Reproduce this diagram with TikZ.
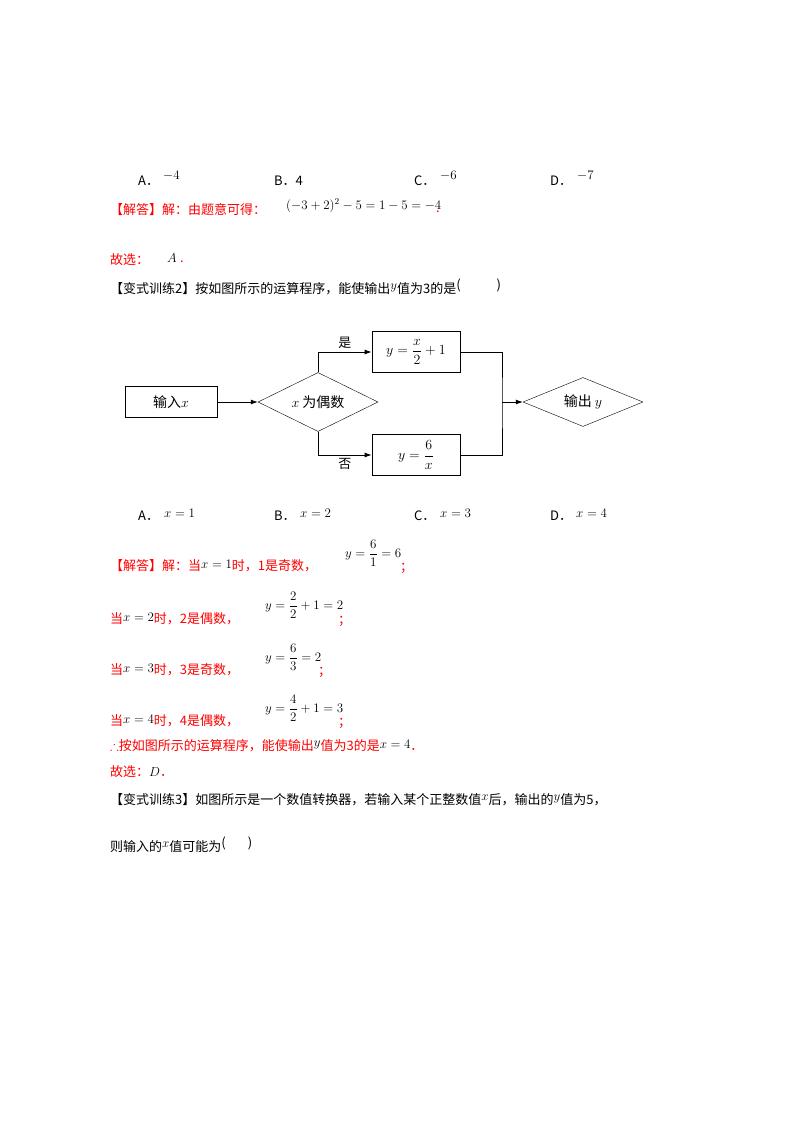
\RequirePackage{fix-cm}
\documentclass[tikz,border=0pt]{standalone}
\usepackage{fontspec}
\usepackage{amsmath,amssymb}
\setmainfont{Liberation Serif}
\newfontfamily\cjk{Noto Sans CJK SC}
\DeclareMathSizes{13}{13}{9}{7}
\DeclareMathSizes{14}{14}{10}{7}
\usetikzlibrary{shapes.geometric,arrows.meta}
\begin{document}
\begin{tikzpicture}[x=1pt,y=-1pt,
  txt/.style={anchor=west,inner sep=0pt,font=\fontsize{13}{15}\selectfont\cjk},
  rtxt/.style={txt,text=red},
  box/.style={draw,thick,minimum width=92pt,minimum height=31pt,inner sep=0pt,font=\fontsize{14}{16}\selectfont\cjk},
  dia/.style={draw,diamond,aspect=2.1,inner sep=1pt,font=\fontsize{14}{16}\selectfont\cjk},
  arr/.style={-{Latex[length=7pt,width=5pt]},thick},
  ln/.style={thick}]
\useasboundingbox (0,0) rectangle (800,1132);
\fill[white] (0,0) rectangle (800,1132);
% options 1
\node[txt] (a1) at (138,181) {A．};
\node[txt] (a1v) at (163,176) {$-4$};
\node[txt] (b1) at (274,181) {B．4};
\node[txt] (c1) at (414,181) {C．};
\node[txt] (c1v) at (440,176) {$-6$};
\node[txt] (d1) at (550,181) {D．};
\node[txt] (d1v) at (577,176) {$-7$};
\node[rtxt] (s1) at (110,210) {【解答】解：由题意可得：};
\node[txt] (s1m) at (286,206) {$(-3+2)^2-5=1-5=-4$};
\node[rtxt] (s1d) at (436,212) {.};
\node[rtxt] (g1) at (110,260) {故选：};
\node[txt] (g1a) at (167,258) {$A$};
\node[rtxt] (g1d) at (180,262) {.};
\node[txt] (q2) at (110,287) {【变式训练2】按如图所示的运算程序，能使输出\raisebox{4pt}{$y$}值为3的是\raisebox{4pt}{(}\hspace{36pt}\raisebox{4pt}{)}};
% flowchart
\node[box,minimum width=92pt] (in) at (171,402) {输入$x$};
\node[dia,minimum width=120pt,minimum height=59pt] (cond) at (318,402) {$x$ 为偶数};
\node[box,minimum width=88pt,minimum height=41pt] (b1x) at (416,352) {$y=\dfrac{x}{2}+1$};
\node[box,minimum width=88pt,minimum height=41pt] (b2x) at (416,455) {$y=\dfrac{6}{x}$};
\node[dia,minimum width=120pt,minimum height=49pt] (out) at (583,402) {输出 $y$};
\coordinate (j) at (502,402);
\draw[arr] (in) -- (cond);
\draw[arr] (cond.north) |- (b1x.west) node[pos=0.75,above,font=\fontsize{13}{15}\selectfont\cjk] {是};
\draw[arr] (cond.south) |- (b2x.west) node[pos=0.75,below,font=\fontsize{13}{15}\selectfont\cjk] {否};
\draw[ln] (b1x.east) -| (j) |- (b2x.east);
\draw[arr] (j) -- (out.west);
% options 2
\node[txt] (a2) at (138,516) {A．};
\node[txt] (a2v) at (164,513) {$x=1$};
\node[txt] (b2) at (274,516) {B．};
\node[txt] (b2v) at (300,513) {$x=2$};
\node[txt] (c2) at (414,516) {C．};
\node[txt] (c2v) at (440,513) {$x=3$};
\node[txt] (d2) at (550,516) {D．};
\node[txt] (d2v) at (576,513) {$x=4$};
% solution
\node[rtxt] (l1) at (110,566) {【解答】解：当\raisebox{2pt}{\textcolor{black}{$x=1$}}时，1是奇数，};
\node[txt] (l1m) at (345,553) {$y=\dfrac{6}{1}=6$};
\node[rtxt] (l1e) at (400,568) {；};
\node[rtxt] (l2) at (110,619) {当\raisebox{2pt}{\textcolor{black}{$x=2$}}时，2是偶数，};
\node[txt] (l2m) at (265,605) {$y=\dfrac{2}{2}+1=2$};
\node[rtxt] (l2e) at (338,621) {；};
\node[rtxt] (l3) at (110,670) {当\raisebox{2pt}{\textcolor{black}{$x=3$}}时，3是奇数，};
\node[txt] (l3m) at (265,657) {$y=\dfrac{6}{3}=2$};
\node[rtxt] (l3e) at (318,672) {；};
\node[rtxt] (l4) at (110,721) {当\raisebox{2pt}{\textcolor{black}{$x=4$}}时，4是偶数，};
\node[txt] (l4m) at (265,708) {$y=\dfrac{4}{2}+1=3$};
\node[rtxt] (l4e) at (338,723) {；};
\node[rtxt] (l5) at (110,746) {$\therefore$按如图所示的运算程序，能使输出\raisebox{4pt}{\textcolor{black}{$y$}}值为3的是\raisebox{2pt}{\textcolor{black}{$x=4$}}．};
\node[rtxt] (l6) at (110,772) {故选：\textcolor{black}{$D$}．};
\node[txt] (q3) at (110,800) {【变式训练3】如图所示是一个数值转换器，若输入某个正整数值\raisebox{4pt}{$x$}后，输出的\raisebox{4pt}{$y$}值为5，};
\node[txt] (q3b) at (110,845) {则输入的\raisebox{4pt}{$x$}值可能为\raisebox{4pt}{(}\hspace{22pt}\raisebox{4pt}{)}};
\end{tikzpicture}
\end{document}
